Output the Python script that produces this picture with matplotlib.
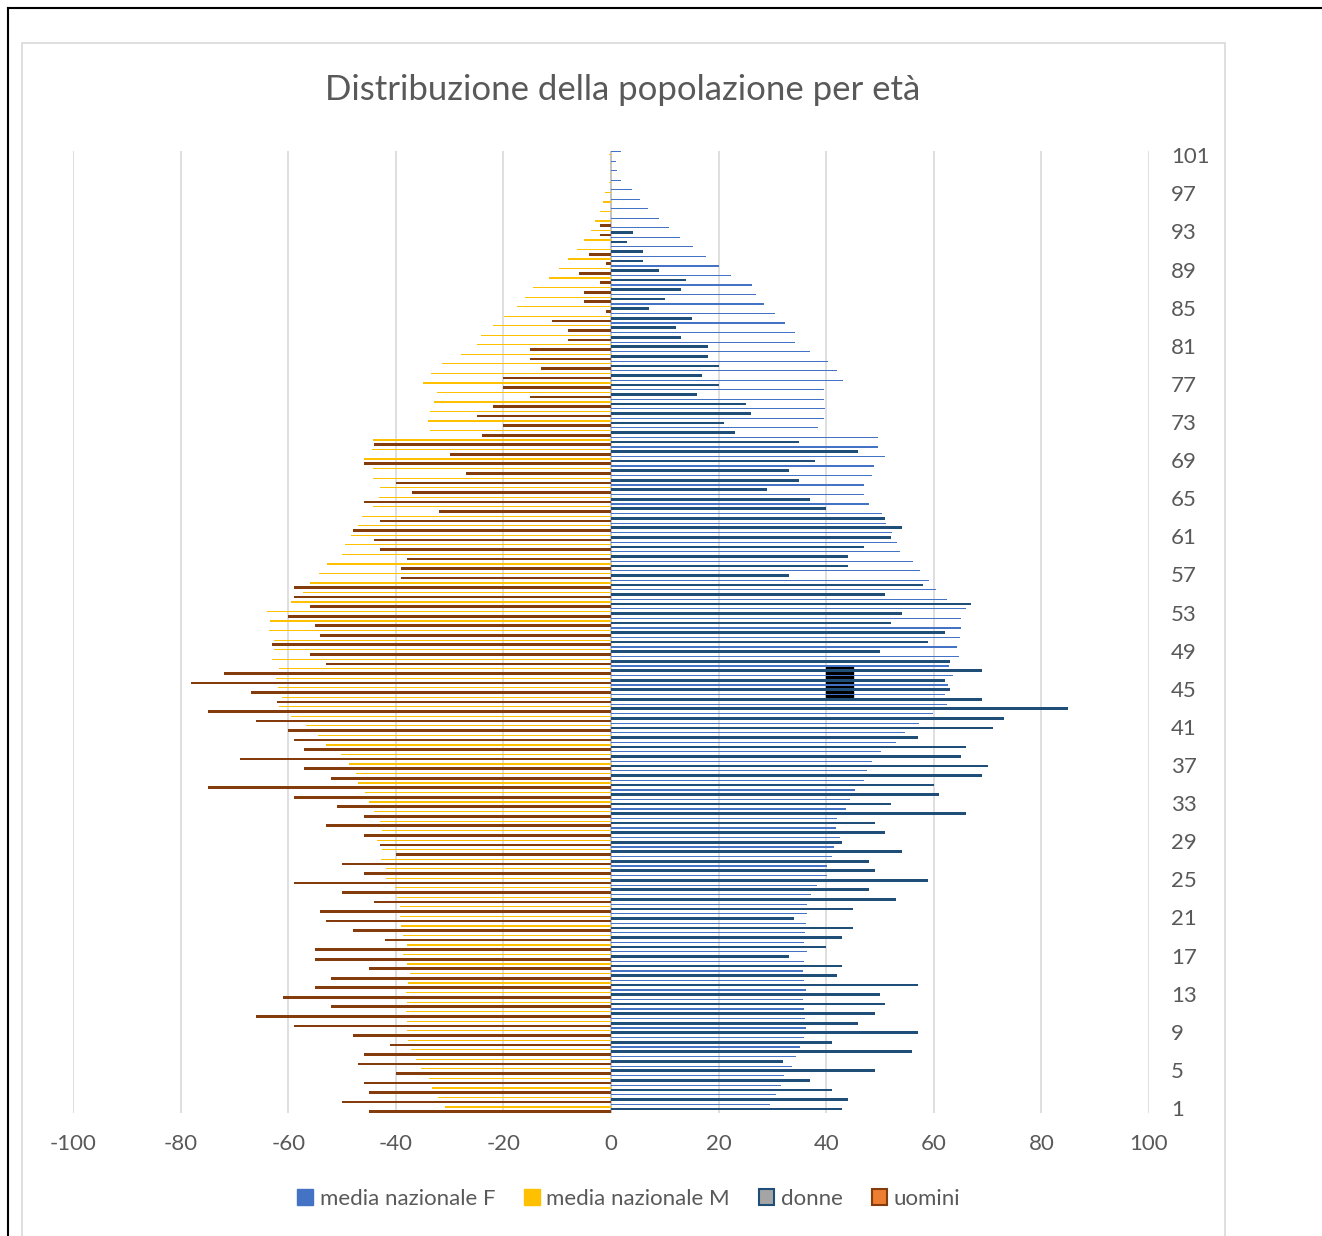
import matplotlib
matplotlib.use('Agg')
import matplotlib.pyplot as plt
from matplotlib.patches import Patch, Rectangle
from matplotlib.lines import Line2D
import numpy as np

plt.rcParams['font.family'] = ['Lato', 'DejaVu Sans']

ages = list(range(1, 102))
tick_ages = list(range(1, 102, 4))
x_ticks = list(range(-100, 101, 20))

media_f = [29.5, 30.6, 31.6, 32.2, 33.6, 34.3, 35.2, 35.8, 36.3, 36.1,
           35.9, 35.7, 36.3, 35.9, 35.6, 35.9, 36.5, 35.9, 36.1, 36.2,
           36.4, 36.4, 37.1, 38.2, 40.1, 40.1, 41.1, 41.4, 42.5, 41.8,
           42.1, 43.6, 44.5, 45.3, 47.0, 47.5, 48.6, 50.2, 52.9, 54.7,
           57.2, 59.8, 62.4, 62.1, 62.6, 63.6, 62.9, 64.7, 64.3, 64.9,
           65.1, 65.1, 65.9, 62.4, 60.4, 59.2, 57.4, 56.1, 53.8, 53.2,
           52.2, 51.2, 50.3, 47.9, 47.1, 47.1, 48.6, 48.9, 50.9, 49.6,
           49.6, 38.4, 39.5, 39.8, 39.5, 39.5, 43.1, 42.0, 40.4, 37.0,
           34.2, 34.2, 32.3, 30.4, 28.4, 26.9, 26.3, 22.3, 20.1, 17.7,
           15.3, 12.9, 10.7, 8.9, 6.9, 5.3, 3.9, 1.9, 1.1, 1.0,
           1.9]

media_m = [30.8, 32.1, 33.3, 33.9, 35.4, 36.2, 37.2, 37.8, 38.0, 38.0,
           38.1, 37.9, 38.1, 37.8, 37.4, 37.9, 38.6, 38.0, 38.7, 39.1,
           39.3, 39.3, 39.7, 40.2, 41.9, 41.8, 42.8, 42.5, 43.5, 42.6,
           42.9, 44.1, 44.9, 45.7, 47.1, 47.4, 48.7, 50.1, 52.9, 54.4,
           56.7, 59.4, 61.7, 61.2, 61.9, 62.2, 61.7, 63.1, 62.7, 62.7,
           63.5, 63.3, 63.9, 59.5, 57.3, 55.9, 54.2, 52.7, 50.0, 49.4,
           48.3, 47.1, 46.3, 44.2, 43.2, 42.9, 44.3, 44.3, 45.9, 44.5,
           44.2, 33.6, 34.1, 33.6, 32.9, 32.4, 34.9, 33.4, 31.4, 27.8,
           24.9, 24.2, 21.9, 19.8, 17.4, 15.9, 14.5, 11.6, 9.7, 8.0,
           6.4, 5.0, 3.8, 2.9, 2.0, 1.4, 1.1, 0.4, 0.2, 0.1,
           0.3]

donne = [43.0, 44.0, 41.0, 37.0, 49.0, 32.0, 56.0, 41.0, 57.0, 46.0,
         49.0, 51.0, 50.0, 57.0, 42.0, 43.0, 33.0, 40.0, 43.0, 45.0,
         34.0, 45.0, 53.0, 48.0, 59.0, 49.0, 48.0, 54.0, 43.0, 51.0,
         49.0, 66.0, 52.0, 61.0, 60.0, 69.0, 70.0, 65.0, 66.0, 57.0,
         71.0, 73.0, 85.0, 69.0, 63.0, 62.0, 69.0, 63.0, 50.0, 59.0,
         62.0, 52.0, 54.0, 67.0, 51.0, 58.0, 33.0, 44.0, 44.0, 47.0,
         52.0, 54.0, 51.0, 40.0, 37.0, 29.0, 35.0, 33.0, 38.0, 46.0,
         35.0, 23.0, 21.0, 26.0, 25.0, 16.0, 20.0, 17.0, 20.0, 18.0,
         18.0, 13.0, 12.0, 15.0, 7.0, 10.0, 13.0, 14.0, 9.0, 6.0,
         6.0, 3.0, 4.0, 0.0, 0.0, 0.0, 0.0, 0.0, 0.0, 0.0,
         0.0]

uomini = [45.0, 50.0, 45.0, 46.0, 40.0, 47.0, 46.0, 41.0, 48.0, 59.0,
          66.0, 52.0, 61.0, 55.0, 52.0, 45.0, 55.0, 55.0, 42.0, 48.0,
          53.0, 54.0, 44.0, 50.0, 59.0, 46.0, 50.0, 40.0, 43.0, 46.0,
          53.0, 46.0, 51.0, 59.0, 75.0, 52.0, 57.0, 69.0, 57.0, 59.0,
          60.0, 66.0, 75.0, 62.0, 67.0, 78.0, 72.0, 53.0, 56.0, 63.0,
          54.0, 55.0, 60.0, 56.0, 59.0, 59.0, 39.0, 39.0, 38.0, 43.0,
          44.0, 48.0, 43.0, 32.0, 46.0, 37.0, 40.0, 27.0, 46.0, 30.0,
          44.0, 24.0, 20.0, 25.0, 22.0, 15.0, 20.0, 20.0, 13.0, 15.0,
          15.0, 8.0, 8.0, 11.0, 1.0, 5.0, 5.0, 2.0, 6.0, 1.0,
          4.0, 0.0, 2.0, 2.0, 0.0, 0.0, 0.0, 0.0, 0.0, 0.0,
          0.0]

W, H = 1322, 1236
fig = plt.figure(figsize=(W / 100, H / 100), dpi=100)
fig.patch.set_facecolor('white')

# frames
fig.add_artist(Line2D([8 / W, 1.0], [1 - 8 / H, 1 - 8 / H], transform=fig.transFigure, color='black', lw=1.5))
fig.add_artist(Line2D([8 / W, 8 / W], [0, 1 - 8 / H], transform=fig.transFigure, color='black', lw=1.5))
fig.add_artist(Rectangle((22 / W, -0.01), (1225 - 22) / W, (H - 43) / H + 0.01,
                         transform=fig.transFigure, fill=False, edgecolor='#D9D9D9', lw=1.2))

ax = fig.add_axes([73 / W, (H - 1112.7) / H, (1149 - 73) / W, (1112.7 - 150.5) / H])
y = np.array(ages, dtype=float)

ax.barh(y - 0.385, [-v for v in uomini], height=0.28, color='#843C0C', zorder=3)
ax.barh(y - 0.105, donne, height=0.28, color='#1F4E79', zorder=3)
ax.barh(y + 0.105, [-v for v in media_m], height=0.13, color='#FFC000', zorder=3)
ax.barh(y + 0.385, media_f, height=0.13, color='#4472C4', zorder=3)

ax.add_patch(Rectangle((40, 44.17), 5, 3.15, color='black', zorder=2))

ax.set_xlim(-100, 100)
ax.set_ylim(0.5, 101.5)
ax.set_xticks(x_ticks)
ax.set_xticklabels([str(t) for t in x_ticks])
ax.yaxis.tick_right()
ax.set_yticks(tick_ages)
ax.set_yticklabels([str(t) for t in tick_ages])
ax.tick_params(axis='both', length=0, labelsize=16, labelcolor='#595959')
ax.tick_params(axis='x', pad=15)
ax.tick_params(axis='y', pad=16)
for s in ax.spines.values():
    s.set_visible(False)
ax.grid(axis='x', color='#D9D9D9', lw=1.2, zorder=0)
ax.axvline(0, color='#BFBFBF', lw=1.2, zorder=1)
ax.set_axisbelow(True)

fig.text(623 / W, 1 - 90 / H, 'Distribuzione della popolazione per età', ha='center', va='center',
         fontsize=25, color='#595959')

handles = [Patch(facecolor='#4472C4', edgecolor='#4472C4'),
           Patch(facecolor='#FFC000', edgecolor='#FFC000'),
           Patch(facecolor='#A5A5A5', edgecolor='#1F4E79', lw=1.5),
           Patch(facecolor='#ED7D31', edgecolor='#843C0C', lw=1.5)]
labels = ['media nazionale F', 'media nazionale M', 'donne', 'uomini']
fig.legend(handles, labels, loc='center', bbox_to_anchor=(629 / W, 1 - 1199 / H), ncol=4,
           frameon=False, fontsize=16, handlelength=0.7, handleheight=0.7,
           handletextpad=0.3, columnspacing=1.3, labelcolor='#595959')

fig.savefig('out.png', dpi=100, facecolor='white')
